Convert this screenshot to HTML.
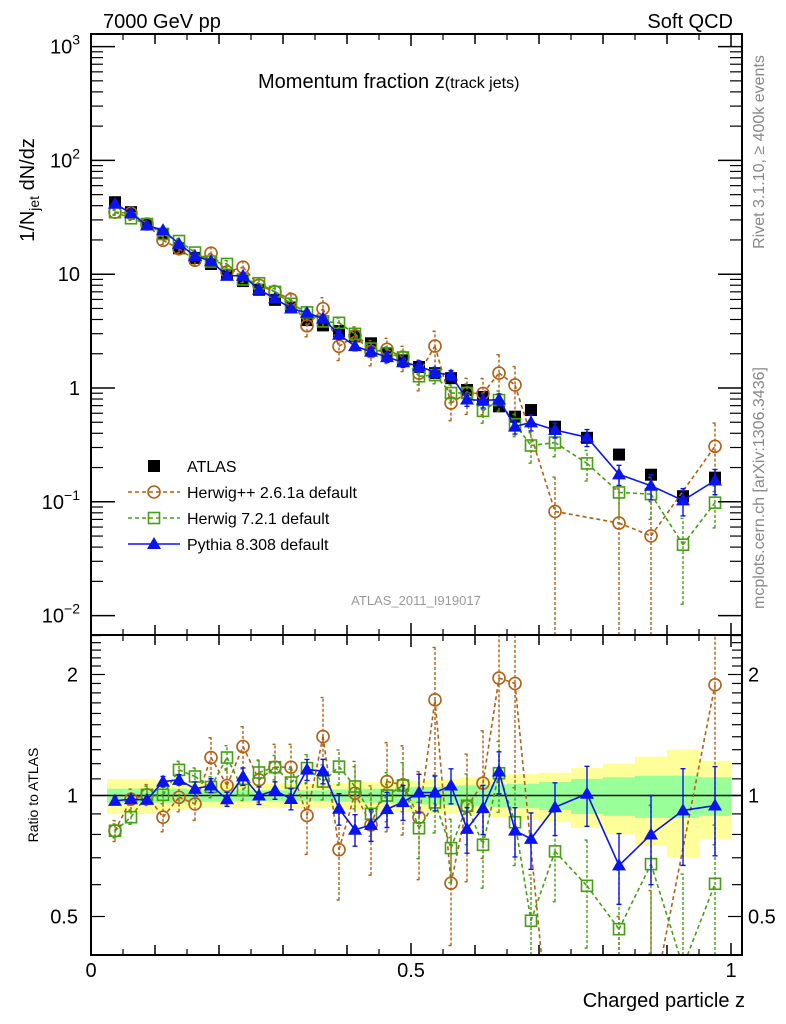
<!DOCTYPE html>
<html><head><meta charset="utf-8"><style>
html,body{margin:0;padding:0;background:#fff;width:786px;height:1024px;overflow:hidden;}
svg{display:block;font-family:"Liberation Sans",sans-serif;}
</style></head><body>
<svg id="chart" width="786" height="1024" viewBox="0 0 786 1024" xmlns="http://www.w3.org/2000/svg">
<defs>
<clipPath id="clipMain"><rect x="91" y="34" width="651" height="601"/></clipPath>
<clipPath id="clipRatio"><rect x="91" y="635" width="651" height="320"/></clipPath>
</defs>
<g id="bands" clip-path="url(#clipRatio)"></g>
<g id="gMain" clip-path="url(#clipMain)"></g>
<g id="gRatio" clip-path="url(#clipRatio)"></g>
<g id="axes"></g>
<text x="103" y="28" font-size="20">7000 GeV pp</text>
<text x="733" y="28" font-size="20" text-anchor="end">Soft QCD</text>
<text x="258" y="88" font-size="20">Momentum fraction z<tspan font-size="16">(track jets)</tspan></text>
<text transform="translate(34,190) rotate(-90)" font-size="20" text-anchor="middle">1/N<tspan font-size="14" dy="5">jet</tspan><tspan dy="-5"> dN/dz</tspan></text>
<text transform="translate(38,795) rotate(-90)" font-size="14" text-anchor="middle">Ratio to ATLAS</text>
<text x="745" y="1007" font-size="20" text-anchor="end">Charged particle z</text>
<text transform="translate(764,152) rotate(-90)" font-size="16" fill="#888" text-anchor="middle">Rivet 3.1.10, ≥ 400k events</text>
<text transform="translate(764,488) rotate(-90)" font-size="16" fill="#888" text-anchor="middle">mcplots.cern.ch [arXiv:1306.3436]</text>
<text x="416" y="605" font-size="13" fill="#999" text-anchor="middle">ATLAS_2011_I919017</text>
<g id="legend"></g>
</svg>
<script>
const zCenters=[0.0375,0.0625,0.0875,0.1125,0.1375,0.1625,0.1875,0.2125,0.2375,0.2625,0.2875,0.3125,0.3375,0.3625,0.3875,0.4125,0.4375,0.4625,0.4875,0.5125,0.5375,0.5625,0.5875,0.6125,0.6375,0.6625,0.6875,0.725,0.775,0.825,0.875,0.925,0.975];
const zHalfWidths=[0.0125,0.0125,0.0125,0.0125,0.0125,0.0125,0.0125,0.0125,0.0125,0.0125,0.0125,0.0125,0.0125,0.0125,0.0125,0.0125,0.0125,0.0125,0.0125,0.0125,0.0125,0.0125,0.0125,0.0125,0.0125,0.0125,0.0125,0.025,0.025,0.025,0.025,0.025,0.025];
const atlasValues=[42.9,35.1,27.5,22.5,16.9,13.9,12.3,9.9,8.7,7.3,5.95,5.1,3.95,3.55,3.17,2.84,2.47,2.02,1.75,1.53,1.35,1.22,0.96,0.835,0.69,0.56,0.64,0.457,0.365,0.26,0.173,0.112,0.163];
const pythiaRatio=[0.97,0.979,0.975,1.083,1.094,1.039,1.059,0.979,1.115,1.0,1.03,0.98,1.16,1.15,0.927,0.822,0.845,0.925,0.963,1.017,1.017,1.059,0.826,0.93,1.147,0.818,0.78,0.935,1.01,0.67,0.80,0.918,0.944];
const herwigppRatio=[0.817,0.979,1.004,0.883,0.99,0.953,1.243,1.059,1.324,1.094,1.176,1.176,0.892,1.402,0.733,1.013,0.845,1.083,1.063,0.882,1.73,0.605,0.939,1.073,1.96,1.90,null,0.18,null,0.25,0.29,null,1.885];
const herwig7Ratio=[0.817,0.883,1.004,1.004,1.158,1.115,1.05,1.243,1.033,1.141,1.176,1.077,1.17,1.083,1.18,1.053,0.90,1.0,1.059,0.829,0.961,0.74,0.943,0.754,1.136,0.858,0.488,0.726,0.596,0.465,0.675,0.375,0.603];
const pythiaErr=[0.02,0.02,0.02,0.03,0.03,0.04,0.04,0.04,0.05,0.05,0.05,0.06,0.06,0.07,0.09,0.09,0.09,0.1,0.1,0.11,0.1,0.1,0.13,0.14,0.12,0.14,0.16,0.15,0.17,0.2,0.25,0.27,0.25];
const herwigppErr=[0.06,0.06,0.06,0.08,0.08,0.09,0.12,0.1,0.12,0.12,0.14,0.14,0.2,0.25,0.25,0.2,0.25,0.25,0.25,0.3,0.35,0.3,0.35,0.35,0.45,0.45,0,1,0,1,1,0,0.6];
const herwig7Err=[0.04,0.04,0.05,0.05,0.05,0.05,0.06,0.07,0.06,0.07,0.07,0.08,0.08,0.1,0.1,0.12,0.12,0.14,0.14,0.16,0.16,0.18,0.2,0.22,0.2,0.22,0.3,0.25,0.3,0.4,0.4,0.7,0.4];
const bandInner=[0.04,0.04,0.04,0.04,0.04,0.035,0.035,0.03,0.03,0.03,0.03,0.03,0.03,0.03,0.035,0.035,0.04,0.04,0.045,0.05,0.05,0.055,0.06,0.06,0.065,0.07,0.07,0.08,0.1,0.11,0.12,0.12,0.11];
const bandOuter=[0.1,0.1,0.1,0.09,0.08,0.07,0.07,0.07,0.07,0.07,0.07,0.07,0.07,0.07,0.075,0.08,0.08,0.09,0.09,0.09,0.1,0.1,0.11,0.11,0.12,0.13,0.13,0.14,0.17,0.2,0.25,0.3,0.22];
const xTickLabels=["0","0.5","1"];
const yTickExponents=[-2,-1,0,1,2,3];
const ratioTickLabels=["0.5","1","2"];

const NS="http://www.w3.org/2000/svg";
const X=z=>91+640*z;
const Y=v=>388-113.8*Math.log10(v);
const R=r=>795.5-121*Math.log2(r);
function mk(tag,attrs,parent){const e=document.createElementNS(NS,tag);for(const k in attrs)e.setAttribute(k,attrs[k]);parent.appendChild(e);return e;}
const gMain=document.getElementById('gMain'),gRatio=document.getElementById('gRatio'),bands=document.getElementById('bands'),axes=document.getElementById('axes'),legend=document.getElementById('legend');
const clampY=(y,lo,hi)=>Math.min(hi,Math.max(lo,y));

zCenters.forEach((z,i)=>{
  const x0=X(z-zHalfWidths[i]),x1=X(z+zHalfWidths[i]);
  const y=mk('rect',{x:x0,y:R(1+bandOuter[i]),width:x1-x0,height:R(1-bandOuter[i])-R(1+bandOuter[i]),fill:'#ffff99'},bands);
  
  
  const g=mk('rect',{x:x0,y:R(1+bandInner[i]),width:x1-x0,height:R(1-bandInner[i])-R(1+bandInner[i]),fill:'#99ff99'},bands);
  
  
});
const ref=mk('line',{x1:91,x2:742,y1:R(1),y2:R(1),stroke:'#000','stroke-width':1.5},gRatio);



function marker(type,x,y,color,parent,name){
  let e;
  if(type==='sq') e=mk('rect',{x:x-6,y:y-6,width:12,height:12,fill:'#000'},parent);
  else if(type==='osq') e=mk('rect',{x:x-5.5,y:y-5.5,width:11,height:11,fill:'none',stroke:color,'stroke-width':1.6},parent);
  else if(type==='circ') e=mk('circle',{cx:x,cy:y,r:6,fill:'none',stroke:color,'stroke-width':1.6},parent);
  else e=mk('polygon',{points:`${x},${y-7} ${x-7},${y+5} ${x+7},${y+5}`,fill:color},parent);
  
  
  return e;
}
// clip a segment to y range [ymin,ymax]
function clipSeg(x1,y1,x2,y2,ymin,ymax){
  let t0=0,t1=1;const dy=y2-y1;
  if(dy===0){return (y1<ymin||y1>ymax)?null:[x1,y1,x2,y2];}
  let ta=(ymin-y1)/dy,tb=(ymax-y1)/dy;if(ta>tb){const t=ta;ta=tb;tb=t;}
  t0=Math.max(t0,ta);t1=Math.min(t1,tb);if(t0>t1)return null;
  return [x1+(x2-x1)*t0,y1+dy*t0,x1+(x2-x1)*t1,y1+dy*t1];
}
function series(ratio,err,color,dash,mtype,name){
  [[gMain,(i,r)=>Y(r*atlasValues[i]),34,635],[gRatio,(i,r)=>R(r),635,955]].forEach(([parent,fy,ymin,ymax])=>{
    let pts=[];
    ratio.forEach((r,i)=>{ if(r!==null) pts.push([X(zCenters[i]),fy(i,r)]); });
    let d='';
    for(let k=0;k+1<pts.length;k++){const s=clipSeg(pts[k][0],pts[k][1],pts[k+1][0],pts[k+1][1],ymin,ymax);if(s)d+=`M${s[0]},${s[1]}L${s[2]},${s[3]}`;}
    const l=mk('path',{d:d,fill:'none',stroke:color,'stroke-width':1.6},parent);
    if(dash) l.setAttribute('stroke-dasharray',dash);
    
    
    ratio.forEach((r,i)=>{
      if(r===null)return;
      const x=X(zCenters[i]);
      const lo=Math.max(r*(1-err[i]),0.001),hi=r*(1+err[i]);
      const ylo=fy(i,lo),yhi=fy(i,hi);
      const a=clampY(ylo,ymin,ymax),b=clampY(yhi,ymin,ymax);
      let dd=`M${x},${a}V${b}`;
      if(ylo<=ymax)dd+=`M${x-2.5},${ylo}h5`;
      if(yhi>=ymin)dd+=`M${x-2.5},${yhi}h5`;
      const eb=mk('path',{d:dd,stroke:color,'stroke-width':1.4,fill:'none'},parent);
      if(dash) eb.setAttribute('stroke-dasharray','3,2');
      
      
      const yc=fy(i,r);
      if(yc>=ymin-8&&yc<=ymax+8) marker(mtype,x,yc,color,parent,name+'-point');
    });
  });
}
zCenters.forEach((z,i)=>{ marker('sq',X(z),Y(atlasValues[i]),'#000',gMain,'atlas-point'); });
series(herwigppRatio,herwigppErr,'#b35f14','4,3','circ','herwigpp');
series(herwig7Ratio,herwig7Err,'#43a010','4,3','osq','herwig7');
series(pythiaRatio,pythiaErr,'#0a14f0',null,'tri','pythia');

[[34,635],[635,955]].forEach(([t,b],k)=>{
  const f=mk('rect',{x:91,y:t,width:651,height:b-t,fill:'none',stroke:'#000','stroke-width':2},axes);
  
  
});
for(let k=0;k<=10;k++){
  const x=X(k/10),len=(k%5===0)?12:10;
  [[34,1],[635,-1],[635,1],[955,-1]].forEach(([y0,s])=>{mk('line',{x1:x,x2:x,y1:y0,y2:y0+s*len,stroke:'#000','stroke-width':1.5},axes);});
  if(k<10){const xm=X(k/10+0.05);[[34,1],[635,-1],[635,1],[955,-1]].forEach(([y0,s])=>{mk('line',{x1:xm,x2:xm,y1:y0,y2:y0+s*6,stroke:'#000','stroke-width':1.2},axes);});}
}
xTickLabels.forEach((t,i)=>{const e=mk('text',{x:X(i*0.5),y:977,'font-size':20,'text-anchor':'middle'},axes);e.textContent=t;
  
  });
yTickExponents.forEach(p=>{
  const y=Y(Math.pow(10,p));
  mk('line',{x1:91,x2:115,y1:y,y2:y,stroke:'#000','stroke-width':1.5},axes);
  mk('line',{x1:742,x2:718,y1:y,y2:y,stroke:'#000','stroke-width':1.5},axes);
  for(let m=2;m<=9;m++){const v=m*Math.pow(10,p);if(p===3)continue;const ym=Y(v);
    mk('line',{x1:91,x2:103,y1:ym,y2:ym,stroke:'#000','stroke-width':1.2},axes);
    mk('line',{x1:742,x2:730,y1:ym,y2:ym,stroke:'#000','stroke-width':1.2},axes);}
  const e=mk('text',{x:80,y:y+7,'font-size':20,'text-anchor':'end'},axes);
  
  
  if(p===0)e.textContent='1';else if(p===1)e.textContent='10';
  else{e.textContent='10';const s=mk('tspan',{dy:-9,'font-size':14},e);s.textContent=String(p).replace('-','−');}
});
for(let k=4;k<=25;k++){const r=k/10,y=R(r),maj=(k===5||k===10||k===20);
  if(y<635||y>955)continue;
  mk('line',{x1:91,x2:91+(maj?14:10),y1:y,y2:y,stroke:'#000','stroke-width':1.2},axes);
  mk('line',{x1:742,x2:742-(maj?14:10),y1:y,y2:y,stroke:'#000','stroke-width':1.2},axes);}
ratioTickLabels.forEach(t=>{const y=R(parseFloat(t))+7;
  const a=mk('text',{x:78,y:y,'font-size':20,'text-anchor':'end'},axes);a.textContent=t;
  
  
  const b=mk('text',{x:748,y:y,'font-size':20},axes);b.textContent=t;
  
  });
const legendEntries=[['ATLAS','#000',null,'sq'],['Herwig++ 2.6.1a default','#b35f14','4,3','circ'],['Herwig 7.2.1 default','#43a010','4,3','osq'],['Pythia 8.308 default','#0a14f0',null,'tri']];
legendEntries.forEach((e,i)=>{
  const y=466+i*26;
  const g=mk('g',{},legend);
  
  
  if(e[3]!=='sq'){const l=mk('line',{x1:128,x2:180,y1:y,y2:y,stroke:e[1],'stroke-width':1.6},g);if(e[2])l.setAttribute('stroke-dasharray',e[2]);}
  marker(e[3],154,y,e[1],g,'legend-marker');
  const t=mk('text',{x:187,y:y+6,'font-size':16},g);t.textContent=e[0];
});
</script>
</body></html>
